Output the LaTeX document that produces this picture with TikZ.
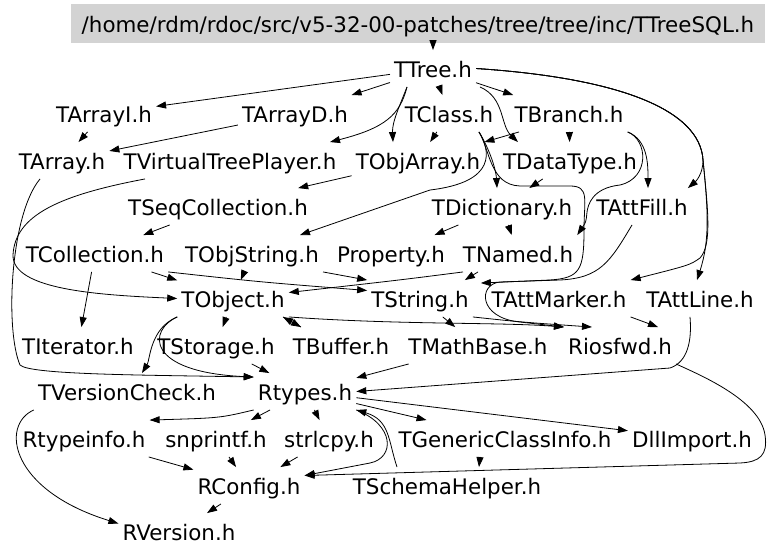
\documentclass[tikz,border=0pt]{standalone}
\usepackage{fontspec}
\setmainfont{DejaVu Sans}
\usetikzlibrary{arrows.meta}
\definecolor{boxgray}{RGB}{211,211,211}

\begin{document}
\begin{tikzpicture}
      [%%%%%%%%%%%%%%%%%%%%%%%%%%%%%%
      x=1pt,y=-1pt,
      file/.style={inner xsep=4pt,inner ysep=5pt,text height=22pt,text depth=4.5pt,
        font=\fontsize{21.4}{25}\selectfont},
      dep/.style={-{Triangle[length=10pt,width=7pt]},line width=0.8pt},
      ]%%%%%%%%%%%%%%%%%%%%%%%%%%%%%%
      \useasboundingbox (0,0) rectangle (768,557);

      \node[file,fill=boxgray,minimum width=694pt,minimum height=39pt,inner ysep=0pt] (top) at (418,23.5)
        {/home/rdm/rdoc/src/v5-32-00-patches/tree/tree/inc/TTreeSQL.h};

      \node[file] (ttree) at (433,68.5) {TTree.h};
      \node[file] (tarrayi) at (104,113.5) {TArrayI.h};
      \node[file] (tarrayd) at (295,113.5) {TArrayD.h};
      \node[file] (tclass) at (449,113.5) {TClass.h};
      \node[file] (tbranch) at (569,113.5) {TBranch.h};
      \node[file] (tarray) at (62,160.5) {TArray.h};
      \node[file] (tvtp) at (230,160.5) {TVirtualTreePlayer.h};
      \node[file] (tobjarray) at (418,160.5) {TObjArray.h};
      \node[file] (tdatatype) at (570,160.5) {TDataType.h};
      \node[file] (tseqcoll) at (218,206.5) {TSeqCollection.h};
      \node[file] (tdictionary) at (502,206.5) {TDictionary.h};
      \node[file] (tattfill) at (642,206.5) {TAttFill.h};
      \node[file] (tcollection) at (95,253.5) {TCollection.h};
      \node[file] (tobjstring) at (252,253.5) {TObjString.h};
      \node[file] (property) at (391,253.5) {Property.h};
      \node[file] (tnamed) at (518,253.5) {TNamed.h};
      \node[file] (tobject) at (233,298.5) {TObject.h};
      \node[file] (tstring) at (420,298.5) {TString.h};
      \node[file] (tattmarker) at (559,298.5) {TAttMarker.h};
      \node[file] (tattline) at (700,298.5) {TAttLine.h};
      \node[file] (titerator) at (78,345.5) {TIterator.h};
      \node[file] (tstorage) at (216,345.5) {TStorage.h};
      \node[file] (tbuffer) at (341,345.5) {TBuffer.h};
      \node[file] (tmathbase) at (478,345.5) {TMathBase.h};
      \node[file] (riosfwd) at (620,345.5) {Riosfwd.h};
      \node[file] (tversioncheck) at (127,391.5) {TVersionCheck.h};
      \node[file] (rtypes) at (305,391.5) {Rtypes.h};
      \node[file] (rtypeinfo) at (84,438.5) {Rtypeinfo.h};
      \node[file] (snprintf) at (216,438.5) {snprintf.h};
      \node[file] (strlcpy) at (329,438.5) {strlcpy.h};
      \node[file] (tgeneric) at (505,438.5) {TGenericClassInfo.h};
      \node[file] (dllimport) at (692,438.5) {DllImport.h};
      \node[file] (rconfig) at (249,485.5) {RConfig.h};
      \node[file] (tschema) at (447,485.5) {TSchemaHelper.h};
      \node[file] (rversion) at (179,531.5) {RVersion.h};

      % straight includes
      \draw[dep] (top.south -| ttree) -- (ttree);
      \draw[dep] (ttree) -- (tarrayi);
      \draw[dep] (ttree) -- (tarrayd);
      \draw[dep] (ttree) -- (tclass);
      \draw[dep] (ttree) -- (tbranch);
      \draw[dep] (tclass) -- (tobjarray);
      \draw[dep] ([xshift=-50pt]tbranch.south) -- (tobjarray.north east);
      \draw[dep] (tbranch) -- (tdatatype);
      \draw[dep] (tarrayi) -- (tarray);
      \draw[dep] (tarrayd) -- (tarray);
      \draw[dep] (tobjarray) -- (tseqcoll);
      \draw[dep] (tseqcoll) -- (tcollection);
      \draw[dep] (tdatatype) -- (tdictionary);
      \draw[dep] (tdictionary) -- (property);
      \draw[dep] (tdictionary) -- (tnamed);
      \draw[dep] (tcollection) -- (tobject);
      \draw[dep] (tcollection) -- (titerator);
      \draw[dep] (tobjstring) -- (tobject);
      \draw[dep] (tobjstring.south east) -- (tstring.north west);
      \draw[dep] ([xshift=-40pt]tnamed.south) -- ([xshift=-8pt]tstring.north east);
      \draw[dep] (tobject) -- (tstorage);
      \draw[dep] ([xshift=50pt]tobject.south) -- ([xshift=-40pt]tbuffer.north);
      \draw[dep] ([xshift=-40pt]tbuffer.north) -- ([xshift=50pt]tobject.south);
      \draw[dep] (tstring) -- (tmathbase);
      \draw[dep] (tattmarker.south east) -- ([xshift=-18pt]riosfwd.north east);
      \draw[dep] (tstorage) -- (rtypes);
      \draw[dep] (tmathbase) -- (rtypes);
      \draw[dep] (rtypes) -- (snprintf);
      \draw[dep] (rtypes) -- (strlcpy);
      \draw[dep] (rtypes) -- (tgeneric);
      \draw[dep] (rtypes) -- (dllimport);
      \draw[dep] (rtypeinfo) -- (rconfig);
      \draw[dep] (snprintf) -- (rconfig);
      \draw[dep] (strlcpy) -- (rconfig);
      \draw[dep] ([xshift=-25pt]tgeneric.south) -- ([xshift=32pt]tschema.north);
      \draw[dep] (rconfig) -- (rversion);

      % curved includes
      \draw[dep] ([xshift=-26pt]ttree.south) .. controls (400,105) and (392,122) .. ([xshift=-25pt]tobjarray.north);
      \draw[dep] ([xshift=-26pt]ttree.south) .. controls (400,115) and (385,128) .. ([xshift=100pt]tvtp.north);
      \draw[dep] ([xshift=47pt]ttree.south) .. controls (505,98) and (500,125) .. ([xshift=-52pt]tdatatype.north);
      \draw[dep] (ttree.east) .. controls (620,78) and (700,110) .. (703,160)
        .. controls (703,175) and (695,182) .. ([xshift=-4pt]tattfill.north east);
      \draw[dep] (ttree.east) .. controls (620,78) and (700,110) .. (703,160)
        .. controls (708,210) and (710,240) .. ([xshift=-3pt]tattline.north);
      \draw[dep] (ttree.east) .. controls (620,78) and (700,110) .. (703,160)
        .. controls (708,210) and (712,245) .. (700,258) .. controls (690,265) .. (tattmarker.north east);
      \draw[dep] ([xshift=30pt]tclass.south) .. controls (490,150) and (496,170) .. ([xshift=-5pt]tdictionary.north);
      \draw[dep] ([xshift=30pt]tclass.south) .. controls (490,150) and (498,182) .. (430,190)
        -- ([xshift=48pt]tobjstring.north);
      \draw[dep] ([xshift=30pt]tclass.south) .. controls (490,150) and (490,185) .. (520,186) -- (570,186)
        .. controls (590,186) and (584,200) .. (584,230) .. controls (584,270) and (580,278) .. (550,280)
        -- ([xshift=8pt,yshift=-3pt]tstring.north east);
      \draw[dep] (tbranch.south east) .. controls (648,140) and (648,165) .. ([xshift=6pt]tattfill.north);
      \draw[dep] (tbranch.south east) .. controls (648,140) and (650,178) .. (620,185)
        .. controls (592,188) and (588,205) .. (587,212) .. controls (586,222) .. (tnamed.north east);
      \draw[dep] ([xshift=-10pt]tattfill.south) .. controls (610,262) and (600,278) .. (560,280) -- (500,282)
        .. controls (478,284) and (478,318) .. (520,322) -- (riosfwd.north west);
      \draw[dep] (tcollection.south east) .. controls (260,282) .. ([yshift=8pt]tstring.west);
      \draw[dep] ([xshift=-55pt]tnamed.south) .. controls (400,280) .. ([yshift=6pt]tobject.east);
      \draw[dep] (tobject.south west) .. controls (150,328) and (150,360) .. ([xshift=15pt]tversioncheck.north);
      \draw[dep] (tobject.south west) .. controls (148,330) and (145,372) .. ([yshift=-4pt]rtypes.north west);
      \draw[dep] (tobject.south east) .. controls (400,325) and (500,322) .. (riosfwd.north west);
      \draw[dep] (tstring.south east) .. controls (520,322) .. ([xshift=28pt]riosfwd.north west);
      \draw[dep] ([xshift=-10pt]tattline.south) .. controls (692,340) and (688,362) .. (670,368) -- (rtypes.east);
      \draw[dep] (riosfwd.south east) .. controls (700,375) and (760,400) .. (765,435)
        .. controls (768,455) and (760,462) .. (740,463) -- ([yshift=10pt]rconfig.east);
      \draw[dep] ([xshift=-50pt]tschema.north) .. controls (388,440) and (390,420) .. (rtypes.south east);
      \draw[dep] (rtypes.south east) .. controls (395,425) and (395,458) .. (370,463) -- ([yshift=10pt]rconfig.east);
      \draw[dep] (rtypes.south west) .. controls (220,418) .. (rtypeinfo.north east);
      \draw[dep] (tversioncheck.south west) .. controls (0,425) and (10,490) .. ([yshift=8pt]rversion.west);
      \draw[dep] ([xshift=-22pt]tarray.south) .. controls (10,215) and (5,330) .. (20,365)
        .. controls (30,375) and (150,375) .. ([yshift=-4pt]rtypes.north west);
      \draw[dep] ([xshift=-85pt]tvtp.south) .. controls (60,195) and (15,215) .. (13,255)
        .. controls (12,290) and (100,295) .. (tobject.west);
    \end{tikzpicture}
\end{document}
